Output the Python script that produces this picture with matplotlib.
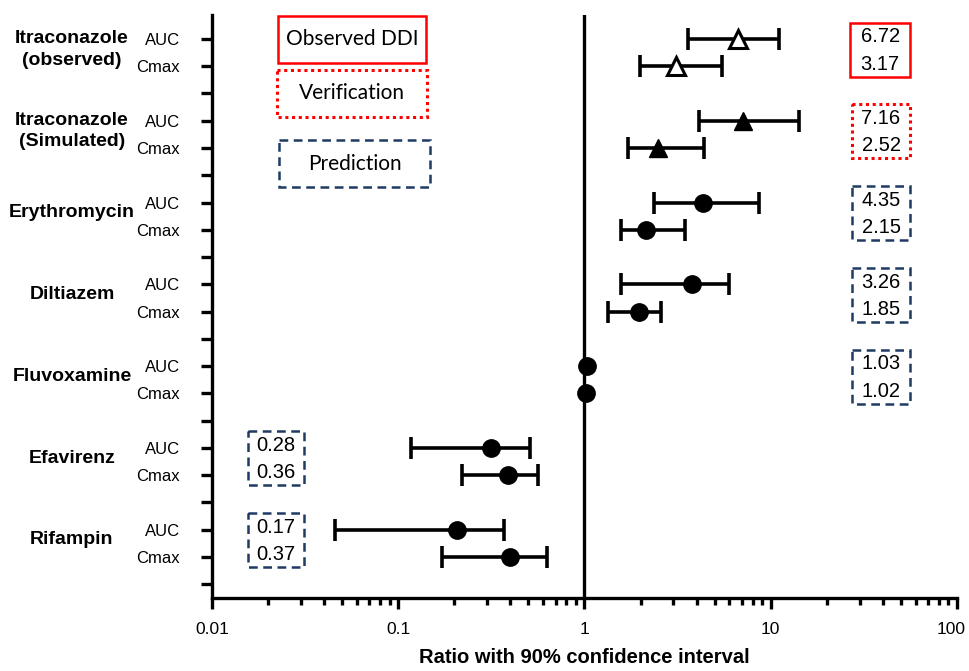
import numpy as np
import matplotlib
matplotlib.use('Agg')
import matplotlib.pyplot as plt
from matplotlib import font_manager
from matplotlib.patches import Rectangle
import matplotlib.transforms as mtransforms

# data
groups = ['Itraconazole\n(observed)', 'Itraconazole\n(Simulated)', 'Erythromycin',
          'Diltiazem', 'Fluvoxamine', 'Efavirenz', 'Rifampin']
kinds = ['observed', 'verification', 'prediction', 'prediction', 'prediction',
         'prediction', 'prediction']
auc_ratio = [6.65, 7.07, 4.31, 3.76, 1.03, 0.314, 0.208]
auc_lo = [3.58, 4.13, 2.37, 1.58, np.nan, 0.117, 0.0457]
auc_hi = [11.07, 14.1, 8.65, 5.97, np.nan, 0.51, 0.37]
cmax_ratio = [3.10, 2.49, 2.14, 1.95, 1.02, 0.39, 0.40]
cmax_lo = [1.99, 1.71, 1.57, 1.33, np.nan, 0.219, 0.171]
cmax_hi = [5.45, 4.38, 3.46, 2.57, np.nan, 0.561, 0.631]
auc_text = ['6.72', '7.16', '4.35', '3.26', '1.03', '0.28', '0.17']
cmax_text = ['3.17', '2.52', '2.15', '1.85', '1.02', '0.36', '0.37']
legend_labels = ['Observed DDI', 'Verification', 'Prediction']
xticks = [0.01, 0.1, 1, 10, 100]
xtick_labels = ['0.01', '0.1', '1', '10', '100']

names = {f.name for f in font_manager.fontManager.ttflist}
narrow = 'Liberation Sans Narrow' if 'Liberation Sans Narrow' in names else 'Liberation Sans'
plt.rcParams['font.family'] = [narrow, 'DejaVu Sans']

RED = '#ff0000'
NAVY = '#1f3b64'
box_style = {
    'observed': dict(edgecolor=RED, linestyle='-', linewidth=1.8),
    'verification': dict(edgecolor=RED, linestyle=(0, (1, 1.2)), linewidth=2.2),
    'prediction': dict(edgecolor=NAVY, linestyle=(0, (3.5, 2.2)), linewidth=1.8),
}
marker_style = {
    'observed': dict(marker='^', mfc='white', mec='black', mew=2.2, ms=12.5),
    'verification': dict(marker='^', mfc='black', mec='black', ms=12.5),
    'prediction': dict(marker='o', mfc='black', mec='black', ms=12.5),
}

fig = plt.figure(figsize=(9.7, 6.71), dpi=100)
ax = fig.add_axes([212 / 970, 73 / 671, 745 / 970, 583 / 671])
ax.set_xscale('log')
ax.set_xlim(0.01, 100)
ax.set_ylim(21.51, 0.12)

ax.axvline(1, color='black', linewidth=2.4, zorder=1)

for g in range(len(groups)):
    y_auc = 3 * g + 1
    y_cmax = 3 * g + 2
    ms = marker_style[kinds[g]]
    for y, r, lo, hi in [(y_auc, auc_ratio[g], auc_lo[g], auc_hi[g]),
                         (y_cmax, cmax_ratio[g], cmax_lo[g], cmax_hi[g])]:
        if not np.isnan(lo):
            ax.errorbar([r], [y], xerr=[[r - lo], [hi - r]], fmt='none',
                        ecolor='black', elinewidth=2.6, capsize=8, capthick=2.6,
                        zorder=2)
        ax.plot([r], [y], linestyle='none', zorder=3, **ms)

    # group name on the left
    ax.text(-0.188, (y_auc + y_cmax) / 2 - 0.12, groups[g],
            transform=mtransforms.blended_transform_factory(ax.transAxes, ax.transData),
            ha='center', va='center', fontsize=14, fontweight='bold',
            linespacing=1.35, clip_on=False)

    # value box
    bx0, bx1 = (0.859, 0.937) if auc_ratio[g] > 1 else (0.0483, 0.1235)
    if kinds[g] == 'observed':
        bx0 -= 0.002
    trans = mtransforms.blended_transform_factory(ax.transAxes, ax.transData)
    ax.add_patch(Rectangle((bx0, y_auc - 0.6), bx1 - bx0, (y_cmax + 0.38) - (y_auc - 0.6),
                           transform=trans, facecolor='none', clip_on=False,
                           **box_style[kinds[g]]))
    ax.text((bx0 + bx1) / 2, y_auc - 0.08, auc_text[g], transform=trans,
            ha='center', va='center', fontsize=14.5)
    ax.text((bx0 + bx1) / 2, y_cmax - 0.08, cmax_text[g], transform=trans,
            ha='center', va='center', fontsize=14.5)

# legend boxes at the top left
trans = mtransforms.blended_transform_factory(ax.transAxes, ax.transData)
leg_rows = [(0.156, 1.88), (2.14, 3.86), (4.71, 6.43)]
leg_x = [(0.0886, 0.2873), (0.0873, 0.2886), (0.0899, 0.2926)]
for lab, kind, (y0, y1), (x0, x1) in zip(legend_labels, kinds[:3], leg_rows, leg_x):
    ax.add_patch(Rectangle((x0, y0), x1 - x0, y1 - y0, transform=trans,
                           facecolor='none', clip_on=False, **box_style[kind]))
    ax.text((x0 + x1) / 2, (y0 + y1) / 2, lab, transform=trans, ha='center',
            va='center', fontsize=15, family='Lato')

# y ticks: AUC / Cmax rows, blank separators
yt = np.arange(1, 22)
ylabels = ['AUC' if t % 3 == 1 else ('Cmax' if t % 3 == 2 else '') for t in yt]
ax.set_yticks(yt)
ax.set_yticklabels(ylabels, fontsize=12)
ax.tick_params(axis='y', direction='out', length=8, width=2.4, pad=15)

ax.set_xticks(xticks)
ax.set_xticklabels(xtick_labels, fontsize=12.5)
ax.tick_params(axis='x', which='major', direction='out', length=8, width=2.4, pad=9)
ax.tick_params(axis='x', which='minor', direction='out', length=5, width=2.4)
last = ax.get_xticklabels()[-1]
last.set_transform(last.get_transform() +
                   mtransforms.ScaledTranslation(-6 / 100, 0, fig.dpi_scale_trans))

for side in ['top', 'right']:
    ax.spines[side].set_visible(False)
for side in ['left', 'bottom']:
    ax.spines[side].set_linewidth(2.4)

ax.set_xlabel('Ratio with 90% confidence interval', fontsize=14.5, fontweight='bold',
              labelpad=8)

fig.savefig('out.png', dpi=100)
